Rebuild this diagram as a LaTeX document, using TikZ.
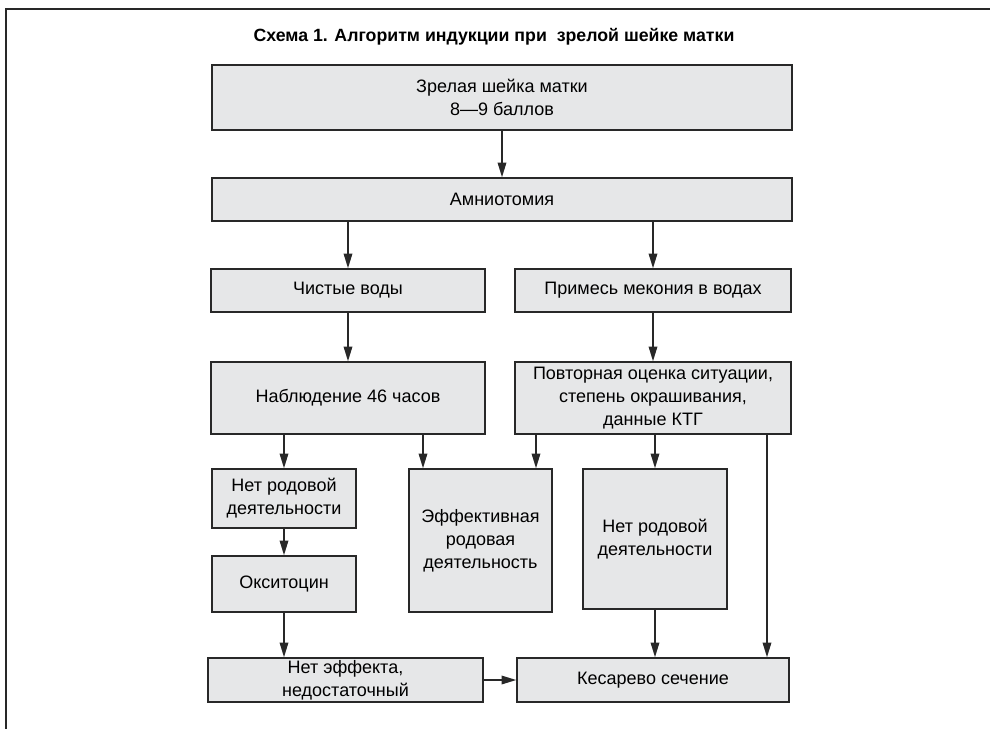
\documentclass[tikz,border=0pt]{standalone}
\usepackage{fontspec}
\setmainfont{Liberation Sans}
\usetikzlibrary{arrows.meta}
\definecolor{boxgray}{RGB}{230,231,232}
\definecolor{linegray}{RGB}{40,40,40}

\begin{document}
\begin{tikzpicture}[x=0.75pt,y=-0.75pt,>={Triangle[length=11pt,width=6.5pt]},
  box/.style={draw=linegray,fill=boxgray,line width=1.2pt,align=center,inner sep=0pt,
    font=\fontsize{13.5}{17.2}\selectfont},
  bw/.style={minimum width=#1*0.75pt},
  bh/.style={minimum height=#1*0.75pt},
  link/.style={->,draw=linegray,line width=1pt}]
\useasboundingbox (0,0) rectangle (990,729);
\draw[linegray,line width=2pt] (990,9) -- (6,9) -- (6,729);
\node[font=\bfseries\fontsize{13.3}{16}\selectfont] (T) at (494,37) {Схема 1. Алгоритм индукции при~ зрелой шейке матки};

\node[box,bw=580,bh=65] (zrel) at (502,97.5) {Зрелая шейка матки\\8—9 баллов};
\node[box,bw=580,bh=43] (amnio) at (502,199.5) {Амниотомия};
\node[box,bw=274,bh=43] (chist) at (348,290.5) {Чистые воды};
\node[box,bw=276,bh=43] (prim) at (653,290.5) {Примесь мекония в водах};
\node[box,bw=274,bh=72] (nabl) at (348,398) {Наблюдение 46 часов};
\node[box,bw=276,bh=72] (povt) at (653,398) {Повторная оценка ситуации,\\степень окрашивания,\\данные КТГ};
\node[box,bw=144,bh=59] (nrl) at (284,498.5) {Нет родовой\\деятельности};
\node[box,bw=144,bh=56] (okst) at (284,584) {Окситоцин};
\node[box,bw=143,bh=143] (eff) at (480.5,540.5) {Эффективная\\родовая\\деятельность};
\node[box,bw=144,bh=140] (nrr) at (655,539) {Нет родовой\\деятельности};
\node[box,bw=275,bh=44] (net) at (345.5,680) {Нет эффекта,\\недостаточный};
\node[box,bw=272,bh=44] (kes) at (653,680) {Кесарево сечение};

\coordinate (lx) at (423,0);
\coordinate (mx) at (536,0);
\coordinate (rx) at (767,0);

\draw[link] (zrel) -- (amnio);
\draw[link] (chist.north |- amnio.south) -- (chist.north);
\draw[link] (prim.north |- amnio.south) -- (prim.north);
\draw[link] (chist) -- (nabl);
\draw[link] (prim) -- (povt);
\draw[link] (nrl.north |- nabl.south) -- (nrl.north);
\draw[link] (lx |- nabl.south) -- (lx |- eff.north);
\draw[link] (mx |- povt.south) -- (mx |- eff.north);
\draw[link] (nrr.north |- povt.south) -- (nrr.north);
\draw[link] (rx |- povt.south) -- (rx |- kes.north);
\draw[link] (nrl) -- (okst);
\draw[link] (okst.south) -- (okst.south |- net.north);
\draw[link] (nrr.south) -- (nrr.south |- kes.north);
\draw[link] (net) -- (kes);
\end{tikzpicture}
\end{document}
